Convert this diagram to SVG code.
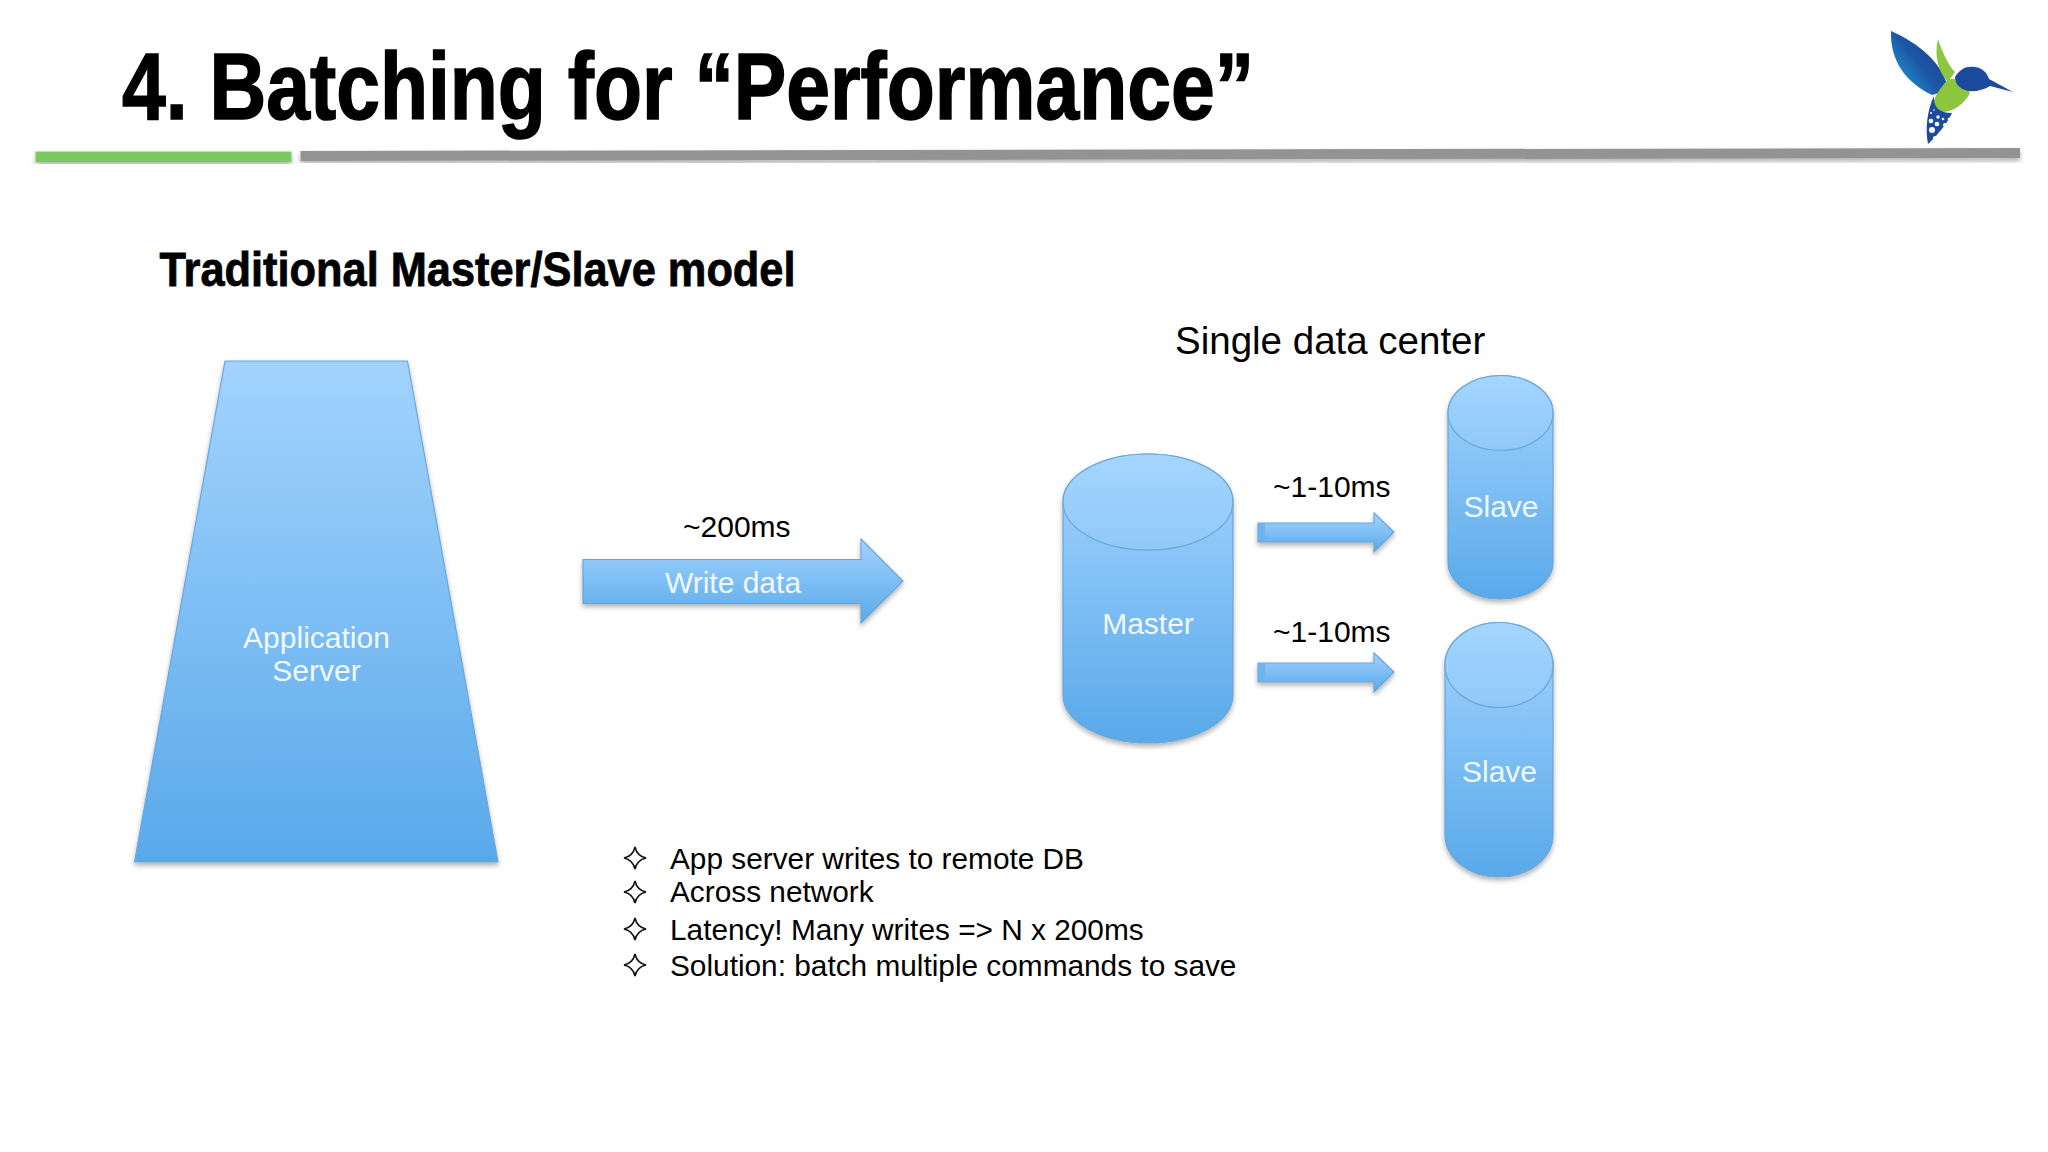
<svg xmlns="http://www.w3.org/2000/svg" width="2048" height="1152" viewBox="0 0 2048 1152">
<style>
text{font-family:"Liberation Sans",Arial,sans-serif}
.t{fill:#000;font-weight:700;stroke:#000}
.w{fill:#f1f8ff;font-size:30px;text-anchor:middle}
.b{fill:#000;font-size:30px}
.n{fill:#000;font-size:29.800px}
.s{fill:url(#g);stroke:#6aa6d8;stroke-width:1.2;filter:url(#sh)}
.top{fill:url(#gt);stroke:#6aa6d8;stroke-width:1.2}
.star{fill:#fff;stroke:#111;stroke-width:1.6}
</style>
<defs>
<linearGradient id="g" x1="0" y1="0" x2="0" y2="1"><stop offset="0" stop-color="#a2d3fe"/><stop offset="1" stop-color="#59a9ea"/></linearGradient>
<linearGradient id="gt" x1="0" y1="0" x2="0" y2="1"><stop offset="0" stop-color="#a4d5fe"/><stop offset="1" stop-color="#90c9f9"/></linearGradient>
<linearGradient id="wing" x1="0.15" y1="0.85" x2="0.75" y2="0.35"><stop offset="0" stop-color="#1f95d2"/><stop offset="0.6" stop-color="#1d55a5"/><stop offset="1" stop-color="#1c4a9c"/></linearGradient>
<filter id="sh" x="-10%" y="-10%" width="120%" height="120%"><feDropShadow dx="0" dy="3" stdDeviation="2.5" flood-color="#000" flood-opacity="0.3"/></filter>
<path id="st" d="M0-11Q2-2 11 0Q2 2 0 11Q-2 2-11 0Q-2-2 0-11Z"/>
</defs>
<rect width="2048" height="1152" fill="#fff"/>

<g id="header">
<text class="t" x="122" y="119" font-size="94" stroke-width="1.5" textLength="1132" lengthAdjust="spacingAndGlyphs">4. Batching for “Performance”</text>
<rect x="35.500" y="151.500" width="256" height="10.500" fill="#7cc962" filter="url(#sh)"/>
<path d="M300.500 151L2020 148V158L300.500 161Z" fill="#939393" filter="url(#sh)"/>
</g>

<g id="logo">
<path d="M1891 31C1920 44 1940 62 1947 84L1950 90L1932 95C1905 82 1890 60 1891 31Z" fill="url(#wing)"/>
<path d="M1938 39C1942 52 1949 66 1955 72L1948 82C1938 72 1934 55 1938 39Z" fill="#8dc63f"/>
<path d="M1933 105C1935 92 1945 84 1948 79L1955 79C1958 87 1967 88 1970 93C1964 105 1952 112 1942 112C1937 112 1934 109 1933 105Z" fill="#8cc63f"/>
<path d="M1955 77C1960 69 1966 66 1975 67C1983 68 1987 73 1989 79L2013 92L1990 86C1984 90 1975 92 1968 91C1960 89 1955 84 1955 77Z" fill="#1c4b9e"/>
<path d="M1934 96C1927 110 1925 130 1928 144C1938 135 1948 122 1952 113C1943 113 1933 110 1934 96Z" fill="#1c4b9e"/>
<g fill="#fff"><circle cx="1932" cy="130" r="3"/><circle cx="1937" cy="124" r="2.300"/><circle cx="1931" cy="121" r="2.300"/><circle cx="1945" cy="125" r="2"/><circle cx="1938" cy="117" r="1.700"/><circle cx="1943" cy="119" r="1.300"/><circle cx="1949" cy="119" r="1.300"/><circle cx="1935" cy="138" r="2"/><circle cx="1940" cy="133" r="1.300"/><circle cx="1931" cy="113" r="1"/><circle cx="1934" cy="110" r="0.800"/></g>
</g>

<text id="subtitle" class="t" x="159.500" y="286" font-size="49" stroke-width="0.8" textLength="636" lengthAdjust="spacingAndGlyphs">Traditional Master/Slave model</text>
<text id="dc-label" x="1175" y="354" font-size="38.500" fill="#000">Single data center</text>

<g id="connectors">
<path class="s" d="M583 559.500H861V539L903 581L861 623V603.500H583Z"/>
<path class="s" d="M1258 523H1374V513L1394 532L1374 552V542H1258Z"/>
<rect x="1258" y="523.500" width="7" height="18" fill="#6fb2ec"/>
<path class="s" d="M1258 663H1374V653L1394 672L1374 692V682H1258Z"/>
<rect x="1258" y="663.500" width="7" height="18" fill="#6fb2ec"/>
<text class="w" x="733" y="593">Write data</text>
<text class="b" x="683" y="537">~200ms</text>
<text class="b" x="1273" y="497">~1-10ms</text>
<text class="b" x="1273" y="642">~1-10ms</text>
</g>

<g id="app-server">
<path class="s" d="M225 361H407.500L498 862H134.500Z"/>
<text class="w" x="316.500" y="648">Application</text>
<text class="w" x="316.500" y="681">Server</text>
</g>

<g id="master">
<path class="s" d="M1063 502A85 48 0 0 1 1233 502V695A85 48 0 0 1 1063 695Z"/>
<ellipse class="top" cx="1148" cy="502" rx="85" ry="48"/>
<text class="w" x="1148" y="634">Master</text>
</g>

<g id="slave-1">
<path class="s" d="M1448 413A52.500 37.500 0 0 1 1553 413V562A52.500 37 0 0 1 1448 562Z"/>
<ellipse class="top" cx="1500.500" cy="413" rx="52.500" ry="37.500"/>
<text class="w" x="1501" y="517">Slave</text>
</g>

<g id="slave-2">
<path class="s" d="M1445 665A54 42.500 0 0 1 1553 665V835A54 42 0 0 1 1445 835Z"/>
<ellipse class="top" cx="1499" cy="665" rx="54" ry="42.500"/>
<text class="w" x="1499.500" y="782">Slave</text>
</g>

<g id="notes">
<use class="star" href="#st" x="635" y="858"/>
<use class="star" href="#st" x="635" y="892"/>
<use class="star" href="#st" x="635" y="929"/>
<use class="star" href="#st" x="635" y="965"/>
<text class="n" x="670" y="869">App server writes to remote DB</text>
<text class="n" x="670" y="902">Across network</text>
<text class="n" x="670" y="940">Latency! Many writes =&gt; N x 200ms</text>
<text class="n" x="670" y="976">Solution: batch multiple commands to save</text>
</g>
</svg>
